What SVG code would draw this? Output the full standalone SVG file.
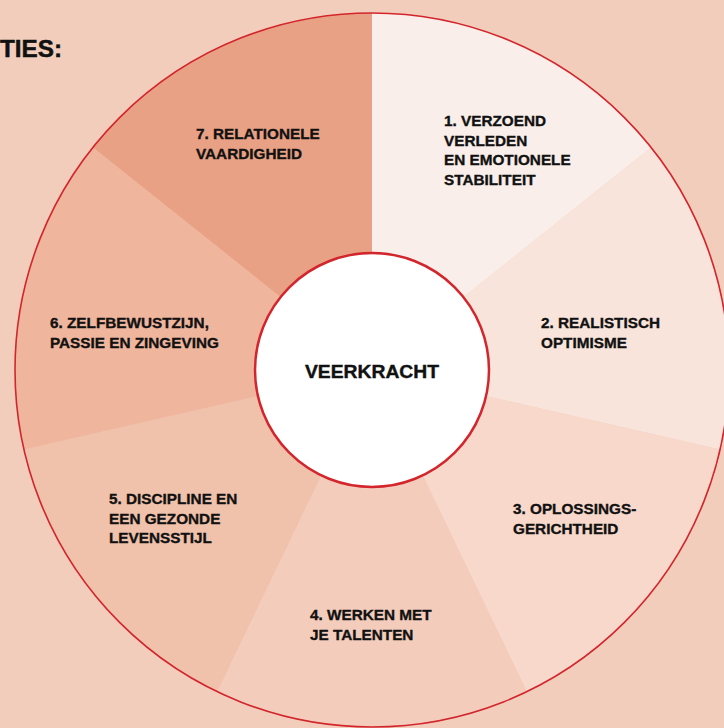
<svg xmlns="http://www.w3.org/2000/svg" width="724" height="728" viewBox="0 0 724 728">
<style>
.lbl{font-family:"Liberation Sans",Arial,sans-serif;font-weight:700;font-size:15.3px;fill:#111;stroke:#111;stroke-width:0.35px}
.seg{stroke:none}
</style>
<rect width="724" height="728" fill="#F3CDBB"/>
<text x="0" y="57" font-family="'Liberation Sans',Arial,sans-serif" font-weight="700" font-size="24" fill="#111" stroke="#111" stroke-width="0.5" textLength="62" lengthAdjust="spacingAndGlyphs">TIES:</text>
<g id="segment-1"><path class="seg" d="M372,370 L372,13 A357,357 0 0 1 651.1,147.4 Z" fill="#F9EEE9"/>
<text class="lbl" x="444" y="126">1. VERZOEND</text><text class="lbl" x="444" y="145.5">VERLEDEN</text><text class="lbl" x="444" y="165">EN EMOTIONELE</text><text class="lbl" x="444" y="184.5">STABILITEIT</text></g>
<g id="segment-2"><path class="seg" d="M372,370 L651.1,147.4 A357,357 0 0 1 720,449.4 Z" fill="#F8E4DB"/>
<text class="lbl" x="541" y="328">2. REALISTISCH</text><text class="lbl" x="541" y="347.5">OPTIMISME</text></g>
<g id="segment-3"><path class="seg" d="M372,370 L720,449.4 A357,357 0 0 1 526.9,691.7 Z" fill="#F7D8CB"/>
<text class="lbl" x="513" y="514">3. OPLOSSINGS-</text><text class="lbl" x="513" y="533.5">GERICHTHEID</text></g>
<g id="segment-4"><path class="seg" d="M372,370 L526.9,691.7 A357,357 0 0 1 217.1,691.7 Z" fill="#F3CCBB"/>
<text class="lbl" x="310" y="620">4. WERKEN MET</text><text class="lbl" x="310" y="639.5">JE TALENTEN</text></g>
<g id="segment-5"><path class="seg" d="M372,370 L217.1,691.7 A357,357 0 0 1 24,449.4 Z" fill="#F0C1AB"/>
<text class="lbl" x="109" y="504">5. DISCIPLINE EN</text><text class="lbl" x="109" y="523.5">EEN GEZONDE</text><text class="lbl" x="109" y="543">LEVENSSTIJL</text></g>
<g id="segment-6"><path class="seg" d="M372,370 L24,449.4 A357,357 0 0 1 92.9,147.4 Z" fill="#EFB59D"/>
<text class="lbl" x="50" y="328">6. ZELFBEWUSTZIJN,</text><text class="lbl" x="50" y="347.5">PASSIE EN ZINGEVING</text></g>
<g id="segment-7"><path class="seg" d="M372,370 L92.9,147.4 A357,357 0 0 1 372,13 Z" fill="#E9A185"/>
<text class="lbl" x="196" y="139">7. RELATIONELE</text><text class="lbl" x="196" y="158.5">VAARDIGHEID</text></g>
<g id="outer-ring"><circle cx="372" cy="370" r="357" fill="none" stroke="#D3252C" stroke-width="1.6"/></g>
<g id="center"><circle cx="372" cy="370" r="117" fill="#FFFFFF" stroke="#D3252C" stroke-width="2.5"/>
<text x="372" y="378" text-anchor="middle" font-family="'Liberation Sans',Arial,sans-serif" font-weight="700" font-size="19" fill="#111" stroke="#111" stroke-width="0.4" textLength="134" lengthAdjust="spacingAndGlyphs">VEERKRACHT</text></g>
</svg>
